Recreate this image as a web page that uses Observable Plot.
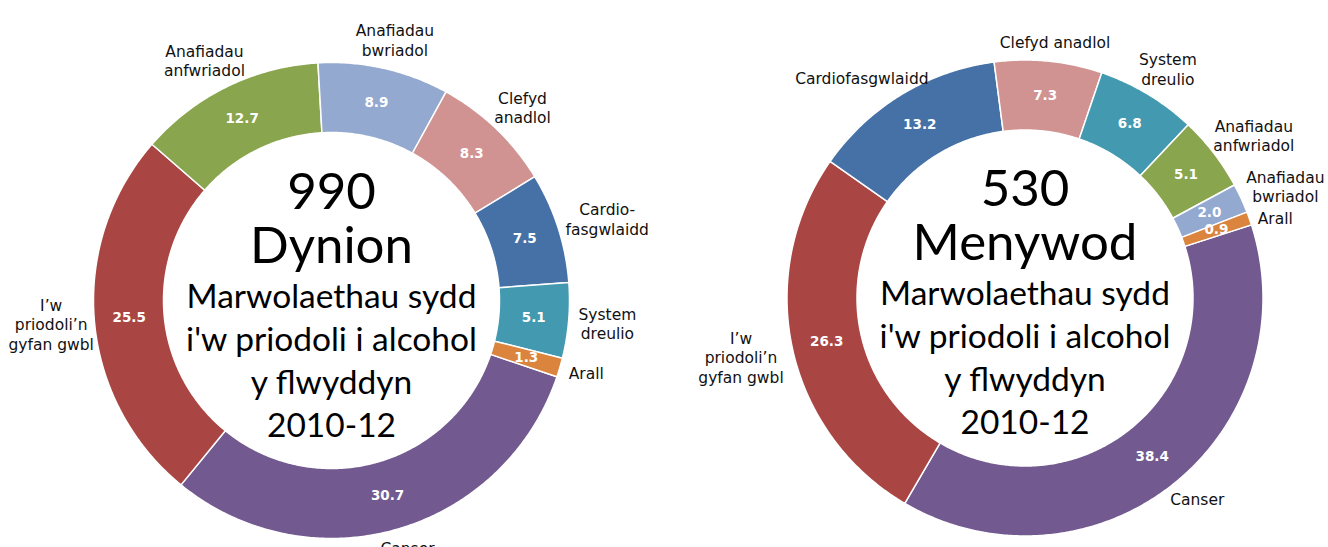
<!DOCTYPE html>
<html><head><meta charset="utf-8">
<script src="https://cdn.jsdelivr.net/npm/d3@7"></script>
<script src="https://cdn.jsdelivr.net/npm/@observablehq/plot@0.6"></script>
<style>html,body{margin:0;padding:0;background:#fff;overflow:hidden}</style>
</head><body><div id="chart"></div>
<script>
// ---- data ----
const categories = ["Canser", "I’w priodoli’n gyfan gwbl", "Cardiofasgwlaidd", "Anafiadau anfwriadol", "Anafiadau bwriadol", "Clefyd anadlol", "System dreulio", "Arall"];
const categoryColors = ["#72598F", "#A94643", "#4571A6", "#89A54E", "#93A9CF", "#D09392", "#4299B0", "#DB843D"];
const valuesDynion = [30.7, 25.5, 7.5, 12.7, 8.9, 8.3, 5.1, 1.3];
const valuesMenywod = [38.4, 26.3, 13.2, 5.1, 2.0, 7.3, 6.8, 0.9];
const labelsDynion = ["Canser", "I’w\npriodoli’n\ngyfan gwbl", "Cardio-\nfasgwlaidd", "Anafiadau\nanfwriadol", "Anafiadau\nbwriadol", "Clefyd\nanadlol", "System\ndreulio", "Arall"];
const labelsMenywod = ["Canser", "I’w\npriodoli’n\ngyfan gwbl", "Cardiofasgwlaidd", "Anafiadau\nanfwriadol", "Anafiadau\nbwriadol", "Clefyd anadlol", "System\ndreulio", "Arall"];
const groups = ["Dynion", "Menywod"];
const totals = ["990", "530"];
const centerLines = ["Marwolaethau sydd", "i'w priodoli i alcohol", "y flwyddyn", "2010-12"];

// ---- layout ----
const W = 1328, H = 547;
const layout = [{cx: 331, cy: 300, start: 108.7}, {cx: 1024.5, cy: 297.5, start: 72.1}];
const R_OUT = 238, R_IN = 168, R_VAL = 203, R_LAB = 248;
const LABEL_FONT = 15.5, LABEL_LH = 19.5;
const series = [valuesDynion, valuesMenywod];
const labelSets = [labelsDynion, labelsMenywod];
const rad = Math.PI / 180;
const polar = (c, r, a) => [c.cx + r * Math.sin(a * rad), c.cy - r * Math.cos(a * rad)];

const ctx = document.createElement("canvas").getContext("2d");
ctx.font = LABEL_FONT + "px 'DejaVu Sans'";

const ringPts = [], valueLabels = [], catLabels = [], bigText = [], smallText = [];
series.forEach((vals, g) => {
  const c = layout[g];
  const total = d3.sum(vals);
  const order = d3.range(vals.length).sort((a, b) => vals[b] - vals[a]);
  const boxes = [];
  let a = c.start;
  for (const i of order) {
    const sweep = vals[i] / total * 360;
    const a0 = a;
    const n = Math.max(2, Math.ceil(sweep / 0.5));
    const key = groups[g] + "|" + categories[i];
    const pts = [];
    for (let k = 0; k <= n; k++) pts.push(polar(c, R_OUT, a0 + sweep * k / n));
    for (let k = n; k >= 0; k--) pts.push(polar(c, R_IN, a0 + sweep * k / n));
    pts.push(pts[0]);
    for (const [x, y] of pts) ringPts.push({key, cat: categories[i], x, y});
    const mid = a0 + sweep / 2;
    const [vx, vy] = polar(c, R_VAL, mid);
    valueLabels.push({x: vx, y: vy, text: vals[i].toFixed(1)});
    const text = labelSets[g][i];
    const lines = text.split("\n");
    const w = d3.max(lines, l => ctx.measureText(l).width);
    const h = lines.length * LABEL_LH;
    const [ax, ay] = polar(c, R_LAB, mid);
    const s = Math.sin(mid * rad), co = Math.cos(mid * rad);
    let x = ax + s * w / 2;
    x = Math.max(8 + w / 2, Math.min(W - 4 - w / 2, x));
    boxes.push({x, y: ay - co * h / 2, w, h, text, right: s > 0});
    a += sweep;
  }
  // simple collision avoidance on each side: push lower labels down
  for (const side of [true, false]) {
    const b = boxes.filter(d => d.right === side && Math.abs(d.x - c.cx) > 60).sort((p, q) => p.y - q.y);
    for (let k = 1; k < b.length; k++) {
      const prev = b[k - 1], cur = b[k];
      const minY = prev.y + prev.h / 2 + cur.h / 2 + 2;
      if (cur.y < minY && Math.abs(cur.x - prev.x) < (cur.w + prev.w) / 2) cur.y = minY;
    }
  }
  catLabels.push(...boxes);
  bigText.push({x: c.cx, y: c.cy - 38, text: totals[g] + "\n" + groups[g]});
  smallText.push({x: c.cx, y: c.cy + 7 + 3 * 43, text: centerLines.join("\n")});
});

const chart = Plot.plot({
  width: W, height: H, margin: 0,
  x: {domain: [0, W], range: [0, W], axis: null},
  y: {domain: [0, H], range: [0, H], axis: null},
  color: {domain: categories, range: categoryColors},
  style: {background: "white", overflow: "visible"},
  marks: [
    Plot.line(ringPts, {x: "x", y: "y", z: "key", fill: "cat", stroke: "white", strokeWidth: 1.5, curve: "linear"}),
    Plot.text(valueLabels, {x: "x", y: "y", text: "text", fill: "white", fontWeight: "bold", fontSize: 13.5, fontFamily: "DejaVu Sans"}),
    Plot.text(catLabels, {x: "x", y: "y", text: "text", fill: "#111", fontSize: LABEL_FONT, lineHeight: LABEL_LH / LABEL_FONT, fontFamily: "DejaVu Sans"}),
    Plot.text(bigText, {x: "x", y: "y", text: "text", fill: "#000", fontSize: 51, lineHeight: 54 / 51, lineAnchor: "bottom", fontFamily: "Lato"}),
    Plot.text(smallText, {x: "x", y: "y", text: "text", fill: "#000", fontSize: 33.5, lineHeight: 43 / 33.5, lineAnchor: "bottom", fontFamily: "Lato"})
  ]
});
document.getElementById("chart").appendChild(chart);
</script>
</body></html>
